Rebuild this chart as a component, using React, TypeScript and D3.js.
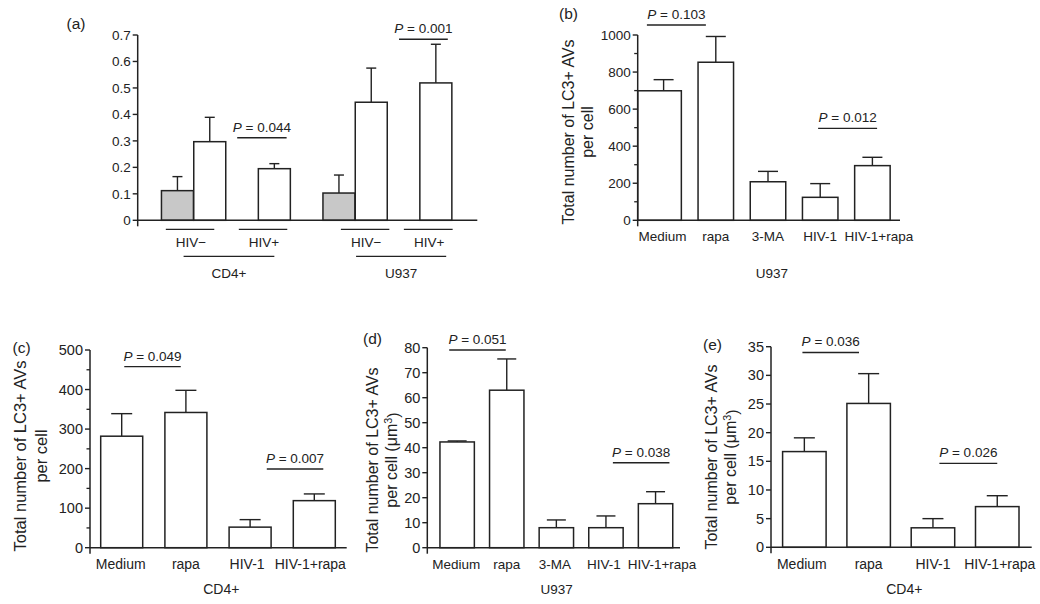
import React from "react";
import * as d3 from "d3";

// ---------- DATA ----------
// Panel (a)
const aBarType = ["HIV−", "HIV+", "HIV+", "HIV−", "HIV+", "HIV+"];
const aValues = [0.112, 0.297, 0.195, 0.103, 0.446, 0.519];
const aErrors = [0.053, 0.092, 0.019, 0.068, 0.129, 0.146];
const aSubGroups = ["HIV−", "HIV+", "HIV−", "HIV+"];
const aCells = ["CD4+", "U937"];
const aPLabels = ["P = 0.044", "P = 0.001"];
const aPHeights = [0.312, 0.684];

// Panel (b)
const bCategories = ["Medium", "rapa", "3-MA", "HIV-1", "HIV-1+rapa"];
const bValues = [699, 853, 208, 124, 295];
const bErrors = [60, 139, 56, 74, 45];
const bPLabels = ["P = 0.103", "P = 0.012"];
const bPHeights = [1054, 496];

// Panel (c)
const cCategories = ["Medium", "rapa", "HIV-1", "HIV-1+rapa"];
const cValues = [282, 342, 52, 119];
const cErrors = [57, 56, 19, 17];
const cPLabels = ["P = 0.049", "P = 0.007"];
const cPHeights = [458, 199];

// Panel (d)
const dCategories = ["Medium", "rapa", "3-MA", "HIV-1", "HIV-1+rapa"];
const dValues = [42.3, 63.0, 8.0, 8.0, 17.6];
const dErrors = [0.4, 12.5, 3.1, 4.7, 4.8];
const dPLabels = ["P = 0.051", "P = 0.038"];
const dPHeights = [79.1, 34.0];

// Panel (e)
const eCategories = ["Medium", "rapa", "HIV-1", "HIV-1+rapa"];
const eValues = [16.7, 25.1, 3.4, 7.1];
const eErrors = [2.4, 5.2, 1.6, 1.9];
const ePLabels = ["P = 0.036", "P = 0.026"];
const ePHeights = [34.0, 14.65];

const FONT = "'Liberation Sans', Arial, Helvetica, sans-serif";
const INK = "#222";
const GRAY = "#c8c8c8";

type Cfg = {
  label: string; labelX: number; labelY: number;
  axisX: number; axisEnd: number; yZero: number; yTop: number; yMax: number;
  major: number; minor?: number; fmt: (v: number) => string; tickFs: number; catFs: number;
  c0: number; step: number; barW: number; cap: number;
  slots: number[]; values: number[]; errors: number[]; fills: string[];
  firstFromAxis?: boolean;
  cats?: string[]; catShift?: number[]; catDy?: number; group?: string; groupDy?: number;
  pLabels: string[]; pHeights: number[]; pSpans: [number, number][];
  title?: { x1: number; x2: number; y: number; l2: string; sup?: boolean; fs: number };
};

function Panel({ c }: { c: Cfg }) {
  const y = d3.scaleLinear().domain([0, c.yMax]).range([c.yZero, c.yTop]);
  const x = d3.scaleLinear().domain([0, 1]).range([c.c0, c.c0 + c.step]);
  const majors = d3.range(0, c.yMax + c.major / 2, c.major);
  const minors = c.minor ? d3.range(0, c.yMax + c.minor / 2, c.minor).filter(v => Math.abs(v / c.major - Math.round(v / c.major)) > 1e-6) : [];
  return (
    <g>
      <text x={c.labelX} y={c.labelY} fontSize={15.5} fill={INK}>{c.label}</text>
      {c.values.map((v, i) => {
        const cx = x(c.slots[i]);
        let left = cx - c.barW / 2;
        if (c.firstFromAxis && i === 0) left = c.axisX;
        const right = cx + c.barW / 2;
        const top = y(c.values[i] + c.errors[i]);
        return (
          <g key={i}>
            <line x1={cx} x2={cx} y1={y(v)} y2={top} stroke={INK} strokeWidth={1.4} />
            <line x1={cx - c.cap} x2={cx + c.cap} y1={top} y2={top} stroke={INK} strokeWidth={1.4} />
            <rect x={left} y={y(v)} width={right - left} height={c.yZero - y(v)} fill={c.fills[i]} stroke={INK} strokeWidth={1.5} />
          </g>
        );
      })}
      <line x1={c.axisX} x2={c.axisX} y1={c.yTop} y2={c.yZero + 6} stroke={INK} strokeWidth={1.5} />
      <line x1={c.axisX} x2={c.axisEnd} y1={c.yZero} y2={c.yZero} stroke={INK} strokeWidth={1.5} />
      {majors.map((v, i) => (
        <g key={"t" + i}>
          <line x1={c.axisX - 5} x2={c.axisX} y1={y(v)} y2={y(v)} stroke={INK} strokeWidth={1.4} />
          <text x={c.axisX - 7} y={y(v)} dy="0.35em" textAnchor="end" fontSize={c.tickFs} fill={INK}>{c.fmt(v)}</text>
        </g>
      ))}
      {minors.map((v, i) => (
        <line key={"m" + i} x1={c.axisX - 3.5} x2={c.axisX} y1={y(v)} y2={y(v)} stroke={INK} strokeWidth={1.3} />
      ))}
      {c.cats && c.cats.map((t, i) => (
        <text key={"c" + i} x={x(c.slots[i]) + (c.catShift ? c.catShift[i] : 0)} y={c.yZero + (c.catDy || 21)} textAnchor="middle" fontSize={c.catFs} fill={INK}>{t}</text>
      ))}
      {c.group && (
        <text x={(c.axisX + c.axisEnd) / 2 + 3} y={c.yZero + (c.groupDy || 46)} textAnchor="middle" fontSize={c.catFs} fill={INK}>{c.group}</text>
      )}
      {c.pLabels.map((t, i) => {
        const x1 = x(c.pSpans[i][0]);
        const x2 = x(c.pSpans[i][1]);
        const yy = y(c.pHeights[i]);
        return (
          <g key={"p" + i}>
            <line x1={x1} x2={x2} y1={yy} y2={yy} stroke={INK} strokeWidth={1.4} />
            <text x={(x1 + x2) / 2} y={yy - 6} textAnchor="middle" fontSize={13.5} fill={INK}>
              <tspan fontStyle="italic">{t.slice(0, 1)}</tspan>{t.slice(1)}
            </text>
          </g>
        );
      })}
      {c.title && (
        <g fontSize={c.title.fs} fill={INK} textAnchor="middle">
          <text transform={`translate(${c.title.x1},${c.title.y}) rotate(-90)`} dy="0.35em">Total number of LC3+ AVs</text>
          <text transform={`translate(${c.title.x2},${c.title.y}) rotate(-90)`} dy="0.35em">
            {c.title.l2}
            {c.title.sup && (<><tspan>(μm</tspan><tspan dy="-0.45em" fontSize={c.title.fs * 0.68}>3</tspan><tspan dy="0.45em">)</tspan></>)}
          </text>
        </g>
      )}
    </g>
  );
}

const fmt1 = (v: number) => (v === 0 ? "0" : d3.format(".1f")(v));
const fmt0 = (v: number) => d3.format("d")(Math.round(v));

export default function App() {
  const aFills = aBarType.map((t) => (t === "HIV−" ? GRAY : "#fff"));
  const aCfg: Cfg = {
    label: "(a)", labelX: 66.5, labelY: 28.5,
    axisX: 137.7, axisEnd: 477.3, yZero: 220.3, yTop: 35, yMax: 0.7,
    major: 0.1, fmt: fmt1, tickFs: 13.5, catFs: 13.5,
    c0: 177.45, step: 32.3, barW: 32, cap: 5,
    slots: [0, 1, 3, 5, 6, 8], values: aValues, errors: aErrors, fills: aFills,
    pLabels: aPLabels, pHeights: aPHeights, pSpans: [[1.85, 3.38], [6.86, 8.37]],
  };
  const bCfg: Cfg = {
    label: "(b)", labelX: 559, labelY: 18.5,
    axisX: 637.7, axisEnd: 900, yZero: 220.3, yTop: 35, yMax: 1000,
    major: 200, minor: 100, fmt: fmt0, tickFs: 13.5, catFs: 13.5,
    c0: 663.6, step: 52.2, barW: 35.5, cap: 10,
    slots: [0, 1, 2, 3, 4], values: bValues, errors: bErrors, fills: bValues.map(() => "#fff"),
    firstFromAxis: true,
    cats: bCategories, catShift: [-1, 0, 0, 0, 6.5], catDy: 20.5, group: "U937", groupDy: 58,
    pLabels: bPLabels, pHeights: bPHeights, pSpans: [[-0.32, 0.81], [2.96, 4.09]],
    title: { x1: 568.5, x2: 587.5, y: 132, l2: "per cell", fs: 16 },
  };
  const cCfg: Cfg = {
    label: "(c)", labelX: 12.5, labelY: 353,
    axisX: 90, axisEnd: 346.7, yZero: 547.7, yTop: 350, yMax: 500,
    major: 100, minor: 50, fmt: fmt0, tickFs: 14.5, catFs: 14,
    c0: 121.7, step: 64.2, barW: 42, cap: 10.5,
    slots: [0, 1, 2, 3], values: cValues, errors: cErrors, fills: cValues.map(() => "#fff"),
    cats: cCategories, catShift: [-1, 0, -3, -4], catDy: 21.6, group: "CD4+", groupDy: 46.3,
    pLabels: cPLabels, pHeights: cPHeights, pSpans: [[0.04, 0.92], [2.26, 3.14]],
    title: { x1: 20.5, x2: 41, y: 456, l2: "per cell", fs: 16.5 },
  };
  const dCfg: Cfg = {
    label: "(d)", labelX: 363, labelY: 343.5,
    axisX: 427.3, axisEnd: 680, yZero: 547.7, yTop: 347.7, yMax: 80,
    major: 10, fmt: fmt0, tickFs: 14.5, catFs: 13.5,
    c0: 457.15, step: 49.6, barW: 34.4, cap: 9.5,
    slots: [0, 1, 2, 3, 4], values: dValues, errors: dErrors, fills: dValues.map(() => "#fff"),
    cats: dCategories, catShift: [-1, 0, -1.5, -2, 6.5], catDy: 21.6, group: "U937", groupDy: 46.3,
    pLabels: dPLabels, pHeights: dPHeights, pSpans: [[-0.16, 0.98], [3.14, 4.28]],
    title: { x1: 372, x2: 391, y: 460, l2: "per cell ", sup: true, fs: 16 },
  };
  const eCfg: Cfg = {
    label: "(e)", labelX: 703, labelY: 350,
    axisX: 771, axisEnd: 1031.7, yZero: 547.3, yTop: 346.7, yMax: 35,
    major: 5, fmt: fmt0, tickFs: 14.5, catFs: 14,
    c0: 804.35, step: 64.3, barW: 43.5, cap: 10.5,
    slots: [0, 1, 2, 3], values: eValues, errors: eErrors, fills: eValues.map(() => "#fff"),
    cats: eCategories, catShift: [-2.5, 0, 0, 2.5], catDy: 21.6, group: "CD4+", groupDy: 46.3,
    pLabels: ePLabels, pHeights: ePHeights, pSpans: [[-0.03, 0.85], [2.1, 3.0]],
    title: { x1: 711, x2: 730, y: 457, l2: "per cell ", sup: true, fs: 16 },
  };

  const ax = d3.scaleLinear().domain([0, 1]).range([aCfg.c0, aCfg.c0 + aCfg.step]);
  const subSpans: [number, number][] = [[-0.36, 1.14], [1.9, 3.4], [5.06, 6.56], [7.01, 8.52]];
  const cellSpans: [number, number][] = [[0.19, 3.0], [5.53, 8.32]];

  return (
    <svg width={1040} height={604} style={{ position: "absolute", left: 0, top: 0, background: "#fff" }} fontFamily={FONT}>
      <rect width={1040} height={604} fill="#fff" />
      <Panel c={aCfg} />
      {aSubGroups.map((t, i) => {
        const x1 = ax(subSpans[i][0]);
        const x2 = ax(subSpans[i][1]);
        return (
          <g key={"sg" + i}>
            <line x1={x1} x2={x2} y1={229.3} y2={229.3} stroke={INK} strokeWidth={1.3} />
            <text x={(x1 + x2) / 2 + 1} y={246.5} textAnchor="middle" fontSize={13.5} fill={INK}>{t}</text>
          </g>
        );
      })}
      {aCells.map((t, i) => {
        const x1 = ax(cellSpans[i][0]);
        const x2 = ax(cellSpans[i][1]);
        return (
          <g key={"cg" + i}>
            <line x1={x1} x2={x2} y1={256.3} y2={256.3} stroke={INK} strokeWidth={1.3} />
            <text x={(x1 + x2) / 2} y={278.3} textAnchor="middle" fontSize={13.5} fill={INK}>{t}</text>
          </g>
        );
      })}
      <Panel c={bCfg} />
      <Panel c={cCfg} />
      <Panel c={dCfg} />
      <Panel c={eCfg} />
    </svg>
  );
}
